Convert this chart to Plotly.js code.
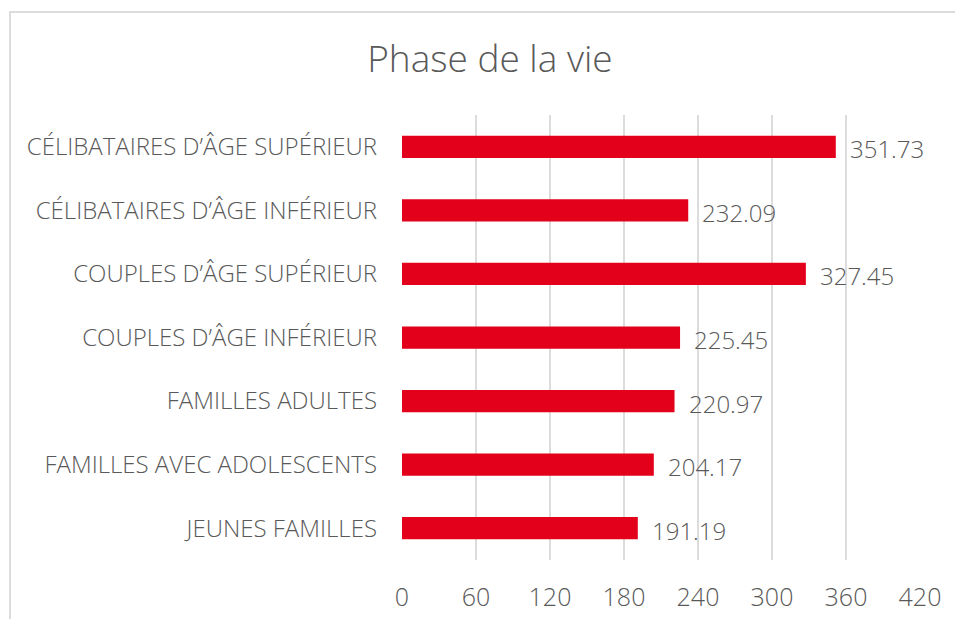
<!DOCTYPE html>
<html>
<head>
<meta charset="utf-8">
<script src="https://cdn.plot.ly/plotly-3.0.1.min.js"></script>
<style>
  html, body { margin: 0; padding: 0; background: #ffffff; }
  #frame { position: absolute; left: 9px; top: 11px; width: 1000px; height: 700px; border: 2px solid #dcdcdc; box-sizing: border-box; }
  #chart { position: absolute; left: 0; top: 0; width: 955px; height: 619px; }
</style>
</head>
<body>
<div id="frame"></div>
<div id="chart"></div>
<script>
const categories = [
  "JEUNES FAMILLES",
  "FAMILLES AVEC ADOLESCENTS",
  "FAMILLES ADULTES",
  "COUPLES D’ÂGE INFÉRIEUR",
  "COUPLES D’ÂGE SUPÉRIEUR",
  "CÉLIBATAIRES D’ÂGE INFÉRIEUR",
  "CÉLIBATAIRES D’ÂGE SUPÉRIEUR"
];
const values = [191.19, 204.17, 220.97, 225.45, 327.45, 232.09, 351.73];
const valueLabels = ["191.19", "204.17", "220.97", "225.45", "327.45", "232.09", "351.73"];
const xTicks = [0, 60, 120, 180, 240, 300, 360, 420];
const chartTitle = "Phase de la vie";

const textColor = "#595959";
const fontFamily = "'Open Sans', 'Liberation Sans', sans-serif";

const trace = {
  type: "bar",
  orientation: "h",
  x: values,
  y: categories,
  marker: { color: "#E2001A", line: { width: 0 } },
  width: 0.35,
  hoverinfo: "none"
};

const annotations = values.map((v, i) => ({
  x: v,
  y: categories[i],
  xref: "x",
  yref: "y",
  text: valueLabels[i],
  showarrow: false,
  xanchor: "left",
  yanchor: "middle",
  xshift: 12,
  yshift: -2,
  font: { family: fontFamily, size: 24, color: textColor, weight: 300 }
}));

const layout = {
  width: 955,
  height: 619,
  margin: { l: 402, r: 35, t: 115, b: 59, pad: 0 },
  paper_bgcolor: "rgba(0,0,0,0)",
  plot_bgcolor: "rgba(0,0,0,0)",
  showlegend: false,
  title: {
    text: chartTitle,
    x: 0.513,
    xanchor: "center",
    y: 0.905,
    yanchor: "middle",
    font: { family: fontFamily, size: 37, color: textColor, weight: 300 }
  },
  xaxis: {
    range: [0, 420],
    tickvals: xTicks,
    ticktext: xTicks.map(String),
    showgrid: true,
    gridcolor: "#dcdcdc",
    gridwidth: 2,
    zeroline: false,
    showline: false,
    ticks: "",
    ticklabelstandoff: 20,
    tickfont: { family: fontFamily, size: 25, color: textColor, weight: 300 },
    fixedrange: true
  },
  yaxis: {
    type: "category",
    categoryorder: "array",
    categoryarray: categories,
    showgrid: false,
    zeroline: false,
    showline: false,
    ticks: "",
    ticklabelstandoff: 24,
    tickfont: { family: fontFamily, size: 24, color: textColor, weight: 300 },
    fixedrange: true
  },
  annotations: annotations
};

Plotly.newPlot("chart", [trace], layout, { displayModeBar: false, staticPlot: true });
</script>
</body>
</html>
